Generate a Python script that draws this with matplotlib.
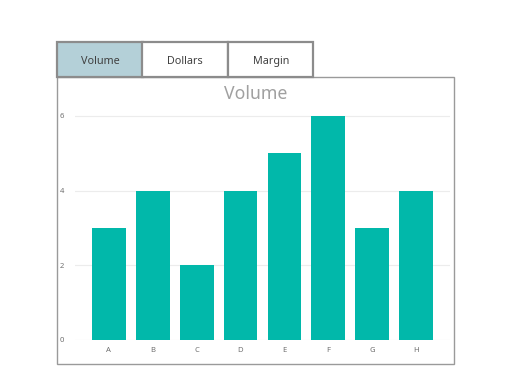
import matplotlib
matplotlib.use("Agg")
import matplotlib.pyplot as plt
from matplotlib.patches import Rectangle

categories = ["A", "B", "C", "D", "E", "F", "G", "H"]
volume = [3, 4, 2, 4, 5, 6, 3, 4]
tabs = ["Volume", "Dollars", "Margin"]
yticks = [0, 2, 4, 6]

plt.rcParams['font.family'] = ['Noto Sans', 'DejaVu Sans']

W, H = 520, 388
fig = plt.figure(figsize=(W / 100, H / 100), dpi=100)
fig.patch.set_facecolor("white")

# background overlay axes in pixel coords
bg = fig.add_axes([0, 0, 1, 1])
bg.set_xlim(0, W)
bg.set_ylim(H, 0)
bg.axis("off")

# panel box
bg.add_patch(Rectangle((57, 77), 397, 287, facecolor="white", edgecolor="#9a9a9a", lw=1.0))
# tabs
tab_x = [57, 142, 228]
for i, (t, x0) in enumerate(zip(tabs, tab_x)):
    fc = "#b4d0d8" if i == 0 else "white"
    bg.add_patch(Rectangle((x0, 42), 86 if i < 2 else 85, 35, facecolor=fc,
                           edgecolor="#8c8c8c", lw=1.6))
    bg.text(x0 + 43, 60, t, ha="center", va="center_baseline", fontsize=7.8, color="#404040")

bg.text(256, 92, "Volume", ha="center", va="center_baseline", fontsize=12.7, color="#a0a0a0")

# chart axes
left, right = 75, 450
y0_px, y6_px = 340, 116
per = (y0_px - y6_px) / 6
ytop = 6.2
top_px = y0_px - ytop * per
ax = fig.add_axes([left / W, (H - y0_px) / H, (right - left) / W, (y0_px - top_px) / H])
ax.set_facecolor("none")
x = list(range(len(categories)))
ax.bar(x, volume, width=0.77, color="#01B8AA", zorder=3)
ax.set_xlim(-0.77, len(categories) - 1 + 0.77)
ax.set_ylim(0, ytop)
ax.set_yticks(yticks)
ax.set_yticklabels([str(v) for v in yticks])
ax.set_xticks(x)
ax.set_xticklabels(categories)
ax.grid(axis="y", color="#ececec", lw=0.8, zorder=0)
for s in ax.spines.values():
    s.set_visible(False)
ax.tick_params(axis="both", length=0, labelsize=5.5, labelcolor="#707070")
ax.tick_params(axis="y", pad=8)
ax.tick_params(axis="x", pad=5)

fig.savefig("out.png", dpi=100)
